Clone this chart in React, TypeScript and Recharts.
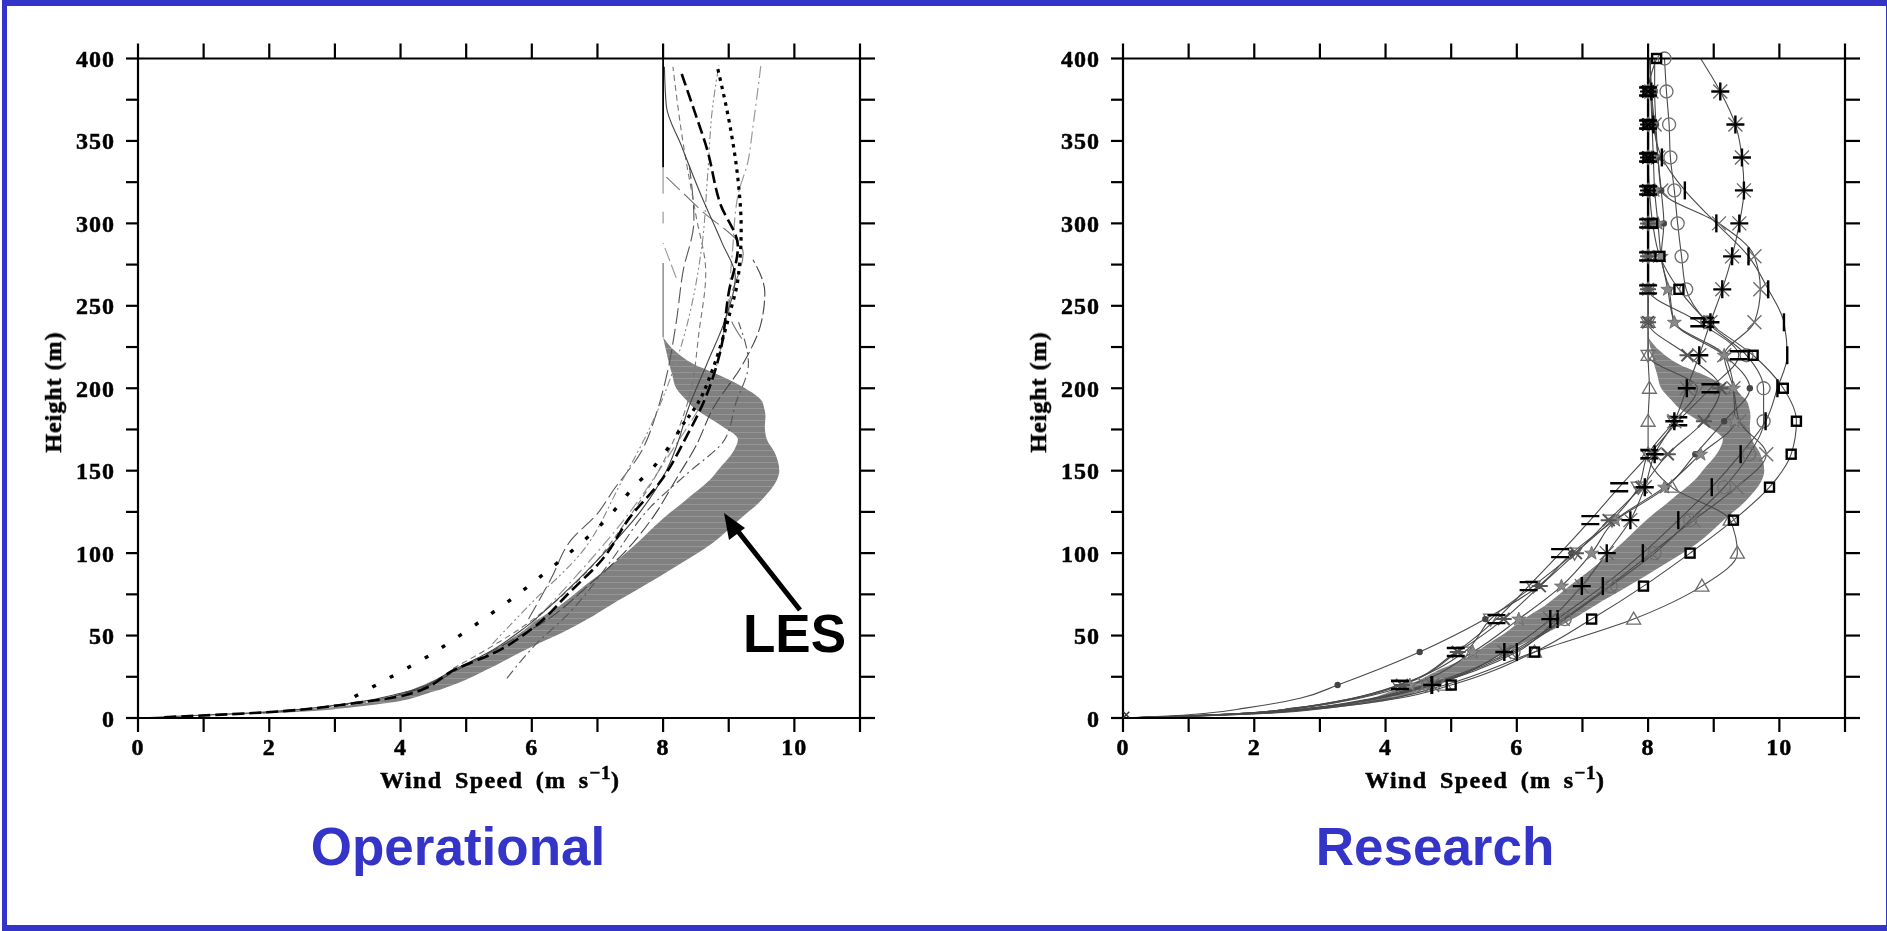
import React from 'react';
import { ComposedChart, Area, Line, XAxis, YAxis } from 'recharts';

type Pt = [number, number];
const toRows = (pts: Pt[]) => pts.map(([h, v]) => ({ h, v }));

const xTicks = [0, 1, 2, 3, 4, 5, 6, 7, 8, 9, 10, 11];
const xLabelled = [0, 2, 4, 6, 8, 10];
const yTicks = [0, 25, 50, 75, 100, 125, 150, 175, 200, 225, 250, 275, 300, 325, 350, 375, 400];
const yLabelled = [0, 50, 100, 150, 200, 250, 300, 350, 400];

// LES band: height, low wind, high wind
const lesHeights = [0, 3, 8, 16, 21, 30, 36, 47, 51, 60, 68, 80, 92, 106, 120, 133, 146, 150, 161, 169, 177, 183, 188, 193, 200, 208, 215, 222, 231];
const lesLow = [0, 1.75, 3.3, 4.08, 4.4, 4.86, 5.2, 5.64, 5.8, 6.1, 6.42, 6.8, 7.19, 7.6, 7.97, 8.37, 8.75, 8.83, 9.06, 9.14, 8.9, 8.66, 8.47, 8.35, 8.2, 8.14, 8.09, 8.05, 8.0];
const lesHigh = [0, 2.1, 3.6, 4.5, 4.86, 5.35, 5.64, 6.2, 6.42, 6.85, 7.18, 7.7, 8.2, 8.75, 9.15, 9.52, 9.75, 9.77, 9.7, 9.58, 9.55, 9.56, 9.54, 9.49, 9.25, 8.85, 8.45, 8.2, 8.0];
const lesRows = lesHeights.map((h, i) => ({ h, band: [lesLow[i], lesHigh[i]] }));

// Operational profiles [height, wind]
const opDotsLow: Pt[] = [[13, 3.3], [25, 3.86], [37, 4.4], [50, 4.9], [63, 5.37], [76, 5.82], [88, 6.2], [101, 6.6], [114, 6.97], [127, 7.28], [140, 7.55], [152, 7.85], [165, 8.1], [178, 8.3]];
const opDotsHigh: Pt[] = [[178, 8.3], [189, 8.5], [211, 8.75], [225, 8.87], [246, 9.02], [266, 9.14], [297, 9.19], [327, 9.14], [359, 9.02], [396, 8.82]];
const opThick: Pt[] = [[0.5, 0.4], [3, 1.75], [9, 3.3], [14, 4.08], [30, 4.86], [39, 5.4], [55, 6.03], [76, 6.57], [96, 7.07], [122, 7.5], [144, 7.97], [171, 8.36], [190, 8.6], [222, 8.87], [258, 9.0], [286, 9.14], [312, 8.87], [345, 8.67], [369, 8.47], [391, 8.28]];
const opSolid: Pt[] = [[0, 0], [3, 1.7], [9, 3.25], [15, 4.0], [30, 4.85], [40, 5.35], [55, 5.9], [76, 6.5], [100, 7.1], [125, 7.65], [150, 8.05], [170, 8.25], [185, 8.36], [215, 8.67], [241, 8.94], [268, 9.1], [288, 8.9], [316, 8.59], [347, 8.28], [371, 8.05], [395, 8.02]];
const opBulge: Pt[] = [[3, 1.9], [9, 3.35], [16, 4.15], [30, 4.9], [45, 5.6], [60, 6.25], [80, 6.85], [100, 7.4], [122, 7.85], [145, 8.2], [165, 8.5], [187, 8.75], [215, 9.22], [239, 9.49], [258, 9.55], [278, 9.37]];
const opLowStart: Pt[] = [[24, 5.62], [43, 6.02], [65, 6.6], [95, 7.2], [128, 7.81], [148, 8.36], [169, 8.94], [190, 9.1], [215, 9.3], [240, 9.15]];
const opBowLeft: Pt[] = [[60, 5.95], [85, 6.3], [108, 6.6], [124, 7.0], [138, 7.24], [161, 7.66], [185, 7.9], [207, 8.05], [240, 8.2], [270, 8.3], [302, 8.47], [335, 8.4]];
const opDashDot2: Pt[] = [[45, 5.4], [70, 6.0], [100, 6.75], [142, 7.35], [177, 7.81], [225, 8.27], [286, 8.59], [330, 8.68], [369, 8.75], [396, 8.85]];
const opDashDotR: Pt[] = [[55, 5.95], [85, 6.65], [120, 7.4], [160, 8.1], [200, 8.7], [240, 8.95], [280, 9.05], [317, 9.14], [337, 9.29], [359, 9.37], [396, 9.49]];
const opFaintMid: Pt[] = [[30, 4.8], [55, 5.85], [85, 6.75], [120, 7.45], [155, 8.0], [195, 8.4], [235, 8.55], [270, 8.65], [305, 8.5], [350, 8.3], [395, 8.15]];
const opShort: Pt[] = [[267, 8.2], [288, 8.0]];
const opEdgeLong: Pt[] = [[230, 9.2], [248, 9.0], [282, 9.22], [309, 8.55], [328, 8.05]];
const opVerticalTop: Pt[] = [[334, 8], [400, 8]];
const opVerticalLow: Pt[] = [[231, 8], [276, 8]];
const opVerticalA: Pt[] = [[300, 8], [307, 8]];
const opVerticalB: Pt[] = [[318, 8], [334, 8]];

// Research profiles, one wind value per level of researchHeights
const researchHeights = [0, 1, 3, 6, 12, 20, 40, 60, 80, 100, 120, 140, 160, 180, 200, 220, 240, 260, 280, 300, 320, 340, 360, 380, 400];
const rsAsterisk = [0, 0.9, 2.1, 2.9, 3.9, 4.71, 5.81, 6.51, 6.99, 7.37, 7.73, 7.95, 8.1, 8.4, 8.59, 8.78, 8.95, 9.13, 9.28, 9.39, 9.46, 9.43, 9.33, 9.1, 8.8];
const rsSquare = [0, 1, 2.3, 3.1, 4.2, 5.0, 6.27, 7.14, 7.93, 8.64, 9.3, 9.85, 10.18, 10.26, 10.06, 9.6, 8.92, 8.47, 8.18, 8.07, 8.02, 8.0, 8.0, 8.0, 8.13];
const rsTriangle = [0, 1, 2.2, 3, 4.1, 4.9, 6.27, 7.78, 8.82, 9.36, 9.25, 8.36, 8.0, 8.0, 8.02, 8.0, 8.0, 8.0, 8.0, 8.0, 8.0, 8.0, 8.0, 8.0, 8.0];
const rsEquals = [0, 0.8, 1.9, 2.6, 3.5, 4.22, 5.07, 5.69, 6.18, 6.66, 7.12, 7.56, 8.02, 8.46, 8.95, 9.38, 8.78, 8.0, 8.0, 8.0, 8.0, 8.0, 8.0, 8.0, 8.0];
const rsBar = [0, 0.9, 2.1, 2.9, 3.9, 4.7, 6.0, 6.62, 7.31, 7.92, 8.46, 8.97, 9.41, 9.79, 9.97, 10.12, 10.07, 9.83, 9.53, 9.04, 8.56, 8.21, 8.08, 8.05, 8.03];
const rsCircle = [0, 0.9, 2.1, 2.9, 3.85, 4.65, 5.95, 6.73, 7.43, 8.1, 8.64, 9.16, 9.54, 9.76, 9.76, 9.5, 8.9, 8.58, 8.51, 8.45, 8.4, 8.34, 8.32, 8.28, 8.25];
const rsCross = [0, 0.9, 2.05, 2.85, 3.8, 4.6, 5.9, 6.7, 7.4, 8.05, 8.69, 9.35, 9.8, 9.39, 9.3, 9.16, 9.62, 9.71, 9.62, 9.08, 8.2, 8.15, 8.1, 8.05, 8.03];
const rsSmallDark = [0, 0.6, 1.3, 1.86, 2.7, 3.27, 4.52, 5.52, 6.33, 6.84, 7.5, 8.28, 8.72, 9.16, 9.55, 9.16, 8.4, 8.32, 8.2, 8.24, 8.2, 8.15, 8.12, 8.1, 8.1];
const rsStar = [0, 0.8, 1.95, 2.7, 3.6, 4.37, 5.33, 6.03, 6.68, 7.14, 7.5, 8.25, 8.8, 9.32, 9.3, 9.16, 8.4, 8.3, 8.2, 8.15, 8.1, 8.08, 8.06, 8.04, 8.03];
const rsInverted = [0, 0.8, 1.9, 2.6, 3.5, 4.2, 5.2, 5.6, 6.25, 6.88, 7.45, 7.85, 8.0, 8.4, 8.75, 8.0, 8.0, 8.0, 8.0, 8.0, 8.0, 8.0, 8.0, 8.0, 8.0];
const rsBlackStar = [0, 0.8, 1.9, 2.65, 3.55, 4.25, 5.1, 5.8, 6.35, 6.9, 7.4, 7.9, 8.3, 8.85, 9.1, 8.6, 8.0, 8.0, 8.0, 8.0, 8.0, 8.0, 8.0, 8.0, 8.0];
const rsVertical: Pt[] = [[262, 8], [400, 8]];
const rsOriginMark: Pt[] = [[2, 0.05]];

const profile = (vals: number[]) => toRows(researchHeights.map((h, i) => [h, vals[i]] as Pt));

const BLUE = '#3434c8';
const SERIF = '"Liberation Serif", serif';
const SANS = '"Liberation Sans", Arial, sans-serif';

const CHART_W = 820;
const CHART_H = 800;
const PLOT_W = 722;
const PLOT_H = 659.5;
const MARGIN_TOP = 43.5;
const AXIS_T = 15;
const AXIS_L = 80;
const AXIS_B = 60;

type Mk = 'asterisk' | 'square' | 'triangle' | 'equals' | 'bar' | 'circle' | 'cross' | 'dark' | 'star' | 'inverted' | 'blackStar';
const FIRST_MARK = 5;
const LAST_MARK = researchHeights.length - 2;

const marker = (kind: Mk) => (p: any) => {
  const { cx, cy, index } = p;
  const key = `${kind}-${index}`;
  const topAllowed = kind === 'square' || kind === 'circle';
  if (cx == null || cy == null || index < FIRST_MARK || (index > LAST_MARK && !topAllowed)) return <g key={key} />;
  const x = cx;
  const y = cy;
  const G = '#6e6e6e';
  switch (kind) {
    case 'asterisk':
      return (
        <g key={key}>
          <path d={`M${x - 7} ${y - 7}L${x + 7} ${y + 7}M${x - 7} ${y + 7}L${x + 7} ${y - 7}`} stroke="#666" strokeWidth={1.3} />
          <path d={`M${x - 9} ${y}H${x + 9}M${x} ${y - 9}V${y + 9}`} stroke="#000" strokeWidth={2.4} />
        </g>
      );
    case 'square':
      return <rect key={key} x={x - 4.5} y={y - 4.5} width={9} height={9} fill="none" stroke="#000" strokeWidth={2.4} />;
    case 'triangle':
      return <path key={key} d={`M${x} ${y - 7}L${x + 7} ${y + 5}H${x - 7}Z`} fill="none" stroke={G} strokeWidth={1.3} />;
    case 'inverted':
      return <path key={key} d={`M${x} ${y + 7}L${x + 7} ${y - 5}H${x - 7}Z`} fill="none" stroke={G} strokeWidth={1.3} />;
    case 'equals':
      return <path key={key} d={`M${x - 9} ${y - 4}H${x + 9}M${x - 9} ${y + 4}H${x + 9}`} stroke="#000" strokeWidth={2.4} />;
    case 'bar':
      return <path key={key} d={`M${x} ${y - 9}V${y + 9}`} stroke="#000" strokeWidth={2.4} />;
    case 'circle':
      return <circle key={key} cx={x} cy={y} r={6.5} fill="none" stroke={G} strokeWidth={1.3} />;
    case 'cross':
      return <path key={key} d={`M${x - 7} ${y - 7}L${x + 7} ${y + 7}M${x - 7} ${y + 7}L${x + 7} ${y - 7}`} stroke={G} strokeWidth={1.4} />;
    case 'dark':
      return <circle key={key} cx={x} cy={y} r={3.2} fill="#444" />;
    case 'star':
      return <path key={key} d={`M${x} ${y - 7}L${x + 2} ${y - 2}L${x + 7} ${y - 2}L${x + 3} ${y + 1}L${x + 4.5} ${y + 6}L${x} ${y + 3}L${x - 4.5} ${y + 6}L${x - 3} ${y + 1}L${x - 7} ${y - 2}L${x - 2} ${y - 2}Z`} fill="#888" stroke="#666" strokeWidth={0.8} />;
    case 'blackStar':
      return (
        <path key={key} d={`M${x - 6} ${y - 6}L${x + 6} ${y + 6}M${x - 6} ${y + 6}L${x + 6} ${y - 6}M${x - 8} ${y}H${x + 8}`} stroke={index > 19 ? '#000' : '#555'} strokeWidth={2} />
      );
  }
};

const originDot = (p: any) => <path key="origin" d={`M${p.cx - 3} ${p.cy - 3}L${p.cx + 3} ${p.cy + 3}M${p.cx - 3} ${p.cy + 3}L${p.cx + 3} ${p.cy - 3}`} stroke="#333" strokeWidth={1.5} />;

const xFmt = (v: number) => (xLabelled.includes(v) ? String(v) : '');
const yFmt = (v: number) => (yLabelled.includes(v) ? String(v) : '');
const blank = () => '';
const tickText = { fontFamily: SERIF, fontWeight: 700, fontSize: 24, fill: '#000', stroke: '#000', strokeWidth: 0.5, letterSpacing: 1 };
const axisLine = { stroke: '#000', strokeWidth: 2.2 };
const tickLine = { stroke: '#000', strokeWidth: 2.2 };

function Frame({ children, left }: { children: React.ReactNode; left: number }) {
  return (
    <div style={{ position: 'absolute', left, top: 0, filter: 'blur(0.6px)' }}>
      <ComposedChart
        layout="vertical"
        width={CHART_W}
        height={CHART_H}
        margin={{ top: MARGIN_TOP, right: CHART_W - AXIS_L - PLOT_W - AXIS_T, bottom: CHART_H - MARGIN_TOP - AXIS_T - PLOT_H - AXIS_B, left: 0 }}
      >
        <XAxis xAxisId={0} orientation="bottom" type="number" domain={[0, 11]} ticks={xTicks} interval={0} tickFormatter={xFmt} tick={tickText} height={AXIS_B} tickSize={14} tickMargin={6} axisLine={axisLine} tickLine={tickLine} allowDecimals={false} />
        <XAxis xAxisId="top" orientation="top" type="number" domain={[0, 11]} ticks={xTicks} interval={0} tickFormatter={blank} height={AXIS_T} tickSize={15} axisLine={axisLine} tickLine={tickLine} />
        <YAxis yAxisId={0} orientation="left" type="number" dataKey="h" domain={[0, 400]} reversed ticks={yTicks} interval={0} tickFormatter={yFmt} tick={tickText} width={AXIS_L} tickSize={12} tickMargin={11} axisLine={axisLine} tickLine={tickLine} />
        <YAxis yAxisId="right" orientation="right" type="number" dataKey="h" domain={[0, 400]} reversed ticks={yTicks} interval={0} tickFormatter={blank} width={AXIS_T} tickSize={15} axisLine={axisLine} tickLine={tickLine} />
        {/* keeps the top and right axes attached to data so that they draw their ticks */}
        <Line xAxisId="top" yAxisId="right" data={toRows(opVerticalTop)} dataKey="v" stroke="none" dot={false} activeDot={false} isAnimationActive={false} legendType="none" />
        {children}
      </ComposedChart>
    </div>
  );
}

const band = (
  <Area data={lesRows} dataKey="band" type="monotone" fill="url(#lesStripes)" fillOpacity={1} stroke="none" isAnimationActive={false} dot={false} activeDot={false} legendType="none" />
);

const op = (pts: Pt[], stroke: string, width: number, dash?: string) => (
  <Line data={toRows(pts)} dataKey="v" type="monotone" stroke={stroke} strokeWidth={width} strokeDasharray={dash} dot={false} activeDot={false} isAnimationActive={false} legendType="none" />
);

const rs = (vals: number[], kind: Mk) => (
  <Line data={profile(vals)} dataKey="v" type="monotone" stroke="#4a4a4a" strokeWidth={1.1} dot={marker(kind)} activeDot={false} isAnimationActive={false} legendType="none" />
);

export default function App() {
  const plotTop = { fontFamily: SANS, fontWeight: 700, position: 'absolute' as const, whiteSpace: 'nowrap' as const };
  const axisTitle = { fontFamily: SERIF, fontWeight: 700, fontSize: 24, letterSpacing: 1.4, position: 'absolute' as const, whiteSpace: 'nowrap' as const, color: '#000', filter: 'blur(0.6px)', lineHeight: '24px', WebkitTextStroke: '0.5px #000' };
  const Sup = () => <span style={{ fontSize: 19, position: 'relative', top: -9, letterSpacing: 0.5 }}>−1</span>;
  return (
    <div style={{ position: 'absolute', left: 0, top: 0, width: 1887, height: 931, background: '#fff', overflow: 'hidden' }}>
      <svg width={0} height={0} style={{ position: 'absolute' }}>
        <defs>
          <pattern id="lesStripes" width={6} height={6} patternUnits="userSpaceOnUse">
            <rect width={6} height={6} fill="#808080" />
            <rect width={6} height={1} fill="#959595" />
          </pattern>
        </defs>
      </svg>
      <div style={{ position: 'absolute', left: 2, top: 0, right: 0, bottom: 0, borderStyle: 'solid', borderColor: BLUE, borderWidth: '6px 1px 6px 5px' }} />

      <Frame left={58}>
        {band}
        {op(opBulge, '#444', 1.1, '14 4')}
        {op(opLowStart, '#555', 1.1, '10 4 2 4')}
        {op(opBowLeft, '#555', 1.1, '16 5')}
        {op(opDashDot2, '#888', 1.1, '8 3 2 3 2 3')}
        {op(opDashDotR, '#999', 1.2, '12 4 2 4')}
        {op(opFaintMid, '#777', 1.1, '6 4')}
        {op(opEdgeLong, '#777', 1.1, '20 6')}
        {op(opShort, '#999', 1.1, '14 4')}
        {op(opSolid, '#444', 1.1)}
        {op(opVerticalLow, '#666', 1.1)}
        {op(opVerticalA, '#999', 1.2)}
        {op(opVerticalB, '#999', 1.2)}
        {op(opVerticalTop, '#000', 1.8)}
        {op(opThick, '#000', 2.6, '12 5')}
        {op(opDotsLow, '#000', 3.4, '4 16')}
        {op(opDotsHigh, '#000', 3.2, '3.5 5')}
      </Frame>

      <Frame left={1043}>
        {band}
        {rs(rsTriangle, 'triangle')}
        {rs(rsInverted, 'inverted')}
        {rs(rsCircle, 'circle')}
        {rs(rsCross, 'cross')}
        {rs(rsSmallDark, 'dark')}
        {rs(rsStar, 'star')}
        {rs(rsBlackStar, 'blackStar')}
        {rs(rsEquals, 'equals')}
        {rs(rsBar, 'bar')}
        {rs(rsSquare, 'square')}
        {rs(rsAsterisk, 'asterisk')}
        {op(rsVertical, '#000', 2.4)}
        <Line data={toRows(rsOriginMark)} dataKey="v" stroke="none" dot={originDot} activeDot={false} isAnimationActive={false} legendType="none" />
      </Frame>

      <div style={{ ...axisTitle, left: 380, top: 768, wordSpacing: 5 }}>Wind Speed (m s<Sup />)</div>
      <div style={{ ...axisTitle, left: 1365, top: 768, wordSpacing: 5 }}>Wind Speed (m s<Sup />)</div>
      <div style={{ ...axisTitle, left: 53, top: 392, letterSpacing: 1, transform: 'translate(-50%,-50%) rotate(-90deg)' }}>Height (m)</div>
      <div style={{ ...axisTitle, left: 1038, top: 392, letterSpacing: 1, transform: 'translate(-50%,-50%) rotate(-90deg)' }}>Height (m)</div>

      <svg width={1887} height={931} style={{ position: 'absolute', left: 0, top: 0, pointerEvents: 'none' }}>
        <line x1={800} y1={610} x2={733} y2={525} stroke="#000" strokeWidth={5} />
        <polygon points="724,513 745,528 729,540" fill="#000" />
      </svg>

      <div style={{ ...plotTop, left: 743, top: 604, fontSize: 53, lineHeight: '60px', color: '#000' }}>LES</div>
      <div style={{ ...plotTop, left: 458, top: 817, fontSize: 53, lineHeight: '60px', color: BLUE, transform: 'translateX(-50%)' }}>Operational</div>
      <div style={{ ...plotTop, left: 1435, top: 817, fontSize: 53, lineHeight: '60px', color: BLUE, transform: 'translateX(-50%)' }}>Research</div>
    </div>
  );
}
